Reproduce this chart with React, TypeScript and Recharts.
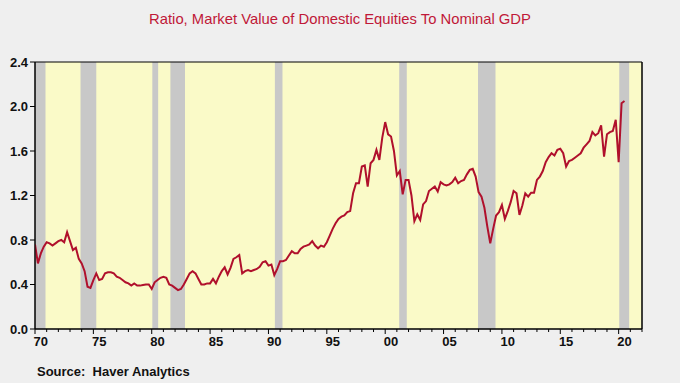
import React from 'react';
import { LineChart, Line, XAxis, YAxis, ReferenceArea, CartesianGrid } from 'recharts';

const startYear = 1970;

// Quarterly ratio, 1970Q1 .. 2020Q3
const ratio: number[] = [
  0.76, 0.59, 0.68, 0.74, // 1970
  0.78, 0.77, 0.75, 0.77, // 1971
  0.79, 0.80, 0.78, 0.87, // 1972
  0.79, 0.71, 0.73, 0.63, // 1973
  0.59, 0.52, 0.38, 0.37, // 1974
  0.44, 0.50, 0.44, 0.45, // 1975
  0.50, 0.51, 0.51, 0.50, // 1976
  0.47, 0.46, 0.44, 0.42, // 1977
  0.41, 0.39, 0.41, 0.39, // 1978
  0.39, 0.395, 0.40, 0.40, // 1979
  0.36, 0.42, 0.44, 0.46, // 1980
  0.47, 0.46, 0.40, 0.39, // 1981
  0.37, 0.35, 0.36, 0.40, // 1982
  0.45, 0.50, 0.52, 0.50, // 1983
  0.45, 0.40, 0.40, 0.41, // 1984
  0.41, 0.45, 0.41, 0.47, // 1985
  0.52, 0.555, 0.49, 0.55, // 1986
  0.63, 0.645, 0.665, 0.50, // 1987
  0.52, 0.53, 0.52, 0.53, // 1988
  0.54, 0.56, 0.60, 0.61, // 1989
  0.57, 0.58, 0.485, 0.54, // 1990
  0.61, 0.61, 0.62, 0.66, // 1991
  0.70, 0.68, 0.68, 0.72, // 1992
  0.74, 0.75, 0.76, 0.79, // 1993
  0.75, 0.725, 0.75, 0.74, // 1994
  0.78, 0.84, 0.90, 0.95, // 1995
  0.99, 1.01, 1.02, 1.05, // 1996
  1.06, 1.22, 1.31, 1.31, // 1997
  1.46, 1.47, 1.28, 1.49, // 1998
  1.52, 1.61, 1.52, 1.72, // 1999
  1.86, 1.75, 1.73, 1.60, // 2000
  1.38, 1.42, 1.21, 1.34, // 2001
  1.34, 1.20, 0.97, 1.03, // 2002
  0.98, 1.12, 1.15, 1.24, // 2003
  1.26, 1.28, 1.235, 1.32, // 2004
  1.30, 1.29, 1.30, 1.32, // 2005
  1.36, 1.31, 1.33, 1.34, // 2006
  1.39, 1.43, 1.44, 1.37, // 2007
  1.23, 1.19, 1.09, 0.92, // 2008
  0.77, 0.90, 1.02, 1.05, // 2009
  1.115, 0.99, 1.06, 1.14, // 2010
  1.24, 1.22, 1.025, 1.11, // 2011
  1.22, 1.19, 1.225, 1.225, // 2012
  1.34, 1.37, 1.42, 1.50, // 2013
  1.545, 1.58, 1.56, 1.61, // 2014
  1.62, 1.58, 1.46, 1.51, // 2015
  1.52, 1.54, 1.56, 1.58, // 2016
  1.63, 1.66, 1.69, 1.77, // 2017
  1.74, 1.76, 1.83, 1.55, // 2018
  1.75, 1.77, 1.78, 1.88, // 2019
  1.50, 2.03, 2.05, // 2020
];

const recessions: [number, number][] = [
  [1970.0, 1970.9],
  [1973.9, 1975.25],
  [1980.05, 1980.55],
  [1981.6, 1982.85],
  [1990.55, 1991.2],
  [2001.2, 2001.85],
  [2007.95, 2009.45],
  [2020.05, 2020.9],
];

const yTicks = [0, 0.4, 0.8, 1.2, 1.6, 2.0, 2.4];
const xDomain: [number, number] = [1970, 2022];
const xTicks: number[] = [];
for (let yr = xDomain[0]; yr <= xDomain[1]; yr++) xTicks.push(yr);
const labelLastYear = 2020;

const data = ratio.map((v, i) => ({ t: startYear + i / 4, v }));

const axisFont = "'Liberation Sans Narrow', 'Arial Narrow', 'Liberation Sans', Arial, sans-serif";
const W = 680;
const H = 383;
const margin = { top: 62, right: 8, bottom: 34, left: 5 };
const yAxisW = 30;
const plotW = W - margin.left - margin.right - 2 * yAxisW;
const halfYearPx = plotW / (xDomain[1] - xDomain[0]) / 2;

const XTick = (props: any) => {
  const { x, y, payload } = props;
  const v = payload.value as number;
  const major = v % 5 === 0;
  return (
    <g>
      <line x1={x} x2={x} y1={y} y2={y + (major ? 5 : 3)} stroke="#000" strokeWidth={1} />
      {major && v <= labelLastYear ? (
        <text
          x={x + halfYearPx}
          y={y + 17}
          textAnchor="middle"
          fontFamily={axisFont}
          fontWeight="bold"
          fontSize={13}
          fill="#111"
        >
          {String(v % 100).padStart(2, '0')}
        </text>
      ) : null}
    </g>
  );
};

const yTickStyle = { fontFamily: axisFont, fontWeight: 'bold' as const, fontSize: 13, fill: '#111' };

export default function App() {
  return (
    <div style={{ position: 'relative', width: W, height: H, background: '#efefef', overflow: 'hidden' }}>
      <style>{`body{margin:0;}`}</style>
      <div
        style={{
          position: 'absolute',
          top: 11,
          left: 0,
          width: W,
          textAlign: 'center',
          fontFamily: "'Liberation Sans', Arial, sans-serif",
          fontSize: 14.8,
          color: '#c01838',
        }}
      >
        Ratio, Market Value of Domestic Equities To Nominal GDP
      </div>
      <LineChart width={W} height={H} data={data} margin={margin}>
        <CartesianGrid horizontal={false} vertical={false} fill="#fafac8" yAxisId="left" />
        <XAxis
          dataKey="t"
          type="number"
          domain={xDomain}
          ticks={xTicks}
          interval={0}
          allowDataOverflow
          tickLine={false}
          tickSize={0}
          tickMargin={0}
          tick={<XTick />}
          axisLine={{ stroke: '#000' }}
          height={20}
        />
        <YAxis
          yAxisId="left"
          orientation="left"
          domain={[0, 2.4]}
          ticks={yTicks}
          interval={0}
          width={yAxisW}
          tickSize={5}
          tickMargin={2}
          tickLine={{ stroke: '#000' }}
          axisLine={{ stroke: '#000' }}
          tick={yTickStyle}
          tickFormatter={(v: number) => v.toFixed(1)}
        />
        <YAxis
          yAxisId="right"
          orientation="right"
          domain={[0, 2.4]}
          ticks={yTicks}
          interval={0}
          width={yAxisW}
          tickSize={5}
          tickMargin={2}
          tickLine={{ stroke: '#000' }}
          axisLine={{ stroke: '#000' }}
          tick={yTickStyle}
          tickFormatter={(v: number) => v.toFixed(1)}
        />
        {recessions.map(([a, b], i) => (
          <ReferenceArea
            key={i}
            yAxisId="left"
            x1={a}
            x2={b}
            y1={0}
            y2={2.4}
            fill="#c8c8c8"
            fillOpacity={1}
            stroke="none"
            ifOverflow="hidden"
          />
        ))}
        <Line
          yAxisId="left"
          type="linear"
          dataKey="v"
          stroke="#b0102c"
          strokeWidth={2}
          dot={false}
          isAnimationActive={false}
        />
        <ReferenceArea
          yAxisId="left"
          x1={xDomain[0]}
          x2={xDomain[1]}
          y1={0}
          y2={2.4}
          fill="none"
          stroke="#000"
          strokeWidth={1}
        />
      </LineChart>
      <div
        style={{
          position: 'absolute',
          left: 37,
          top: 364,
          fontFamily: "'Liberation Sans', Arial, sans-serif",
          fontWeight: 'bold',
          fontSize: 13,
          color: '#111',
          whiteSpace: 'pre',
        }}
      >
        {'Source:  Haver Analytics'}
      </div>
    </div>
  );
}
